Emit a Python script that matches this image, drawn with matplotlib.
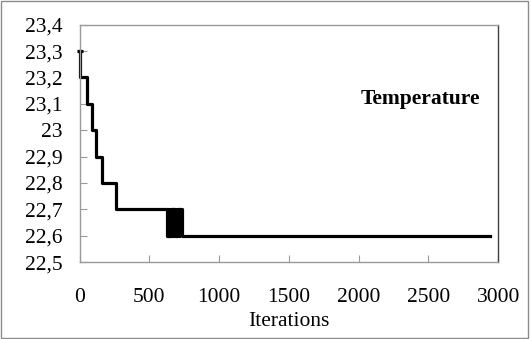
import matplotlib.pyplot as plt
from matplotlib.patches import Rectangle

# Temperature change points (iteration where the value starts)
iterations = [0, 3, 52, 87, 116, 164, 262,
              628, 632, 636, 640, 644, 648, 652, 656, 660, 664, 668,
              672, 676, 680, 684, 688, 692, 696, 700,
              712, 713, 735, 2943]
temperature = [23.3, 23.2, 23.1, 23.0, 22.9, 22.8, 22.7,
               22.6, 22.7, 22.6, 22.7, 22.6, 22.7, 22.6, 22.7, 22.6, 22.7,
               22.6, 22.7, 22.6, 22.7, 22.6, 22.7, 22.6, 22.7, 22.7,
               22.6, 22.7, 22.6, 22.6]

y_ticks = [22.5, 22.6, 22.7, 22.8, 22.9, 23.0, 23.1, 23.2, 23.3, 23.4]
y_labels = ['22,5', '22,6', '22,7', '22,8', '22,9', '23', '23,1', '23,2', '23,3', '23,4']
x_ticks = [0, 500, 1000, 1500, 2000, 2500, 3000]

plt.rcParams['font.family'] = ['Liberation Serif', 'DejaVu Serif']

fig = plt.figure(figsize=(5.30, 3.39), dpi=100)
ax = fig.add_axes([0.150, 0.227, 0.790, 0.700])

ax.plot(iterations, temperature, color='black', linewidth=2.3,
        drawstyle='steps-post', clip_on=False)
ax.plot(iterations[:1], temperature[:1], marker='_', color='black',
        markersize=4, markeredgewidth=2.3, clip_on=False)

ax.set_xlim(0, 3000)
ax.set_ylim(22.5, 23.4)
ax.set_xticks(x_ticks)
ax.set_yticks(y_ticks)
ax.set_yticklabels(y_labels)

ax.tick_params(axis='both', direction='in', length=5, color='#9a9a9a',
               labelsize=15.5)
ax.tick_params(axis='x', pad=19)
ax.tick_params(axis='y', pad=12)

for side in ['left', 'bottom', 'top']:
    ax.spines[side].set_color('#9a9a9a')
ax.spines['right'].set_color('#404040')
for s in ax.spines.values():
    s.set_linewidth(1.0)

ax.set_xlabel('Iterations', fontsize=15.5, labelpad=3)
ax.text(2441, 23.119, 'Temperature', fontsize=15.5, fontweight='bold',
        ha='center', va='center')

# outer chart border
fig.patches.append(Rectangle((0.002, 0.004), 0.995, 0.993, transform=fig.transFigure,
                             fill=False, edgecolor='#8c8c8c', linewidth=1.0))

plt.savefig('out.png', dpi=100)
